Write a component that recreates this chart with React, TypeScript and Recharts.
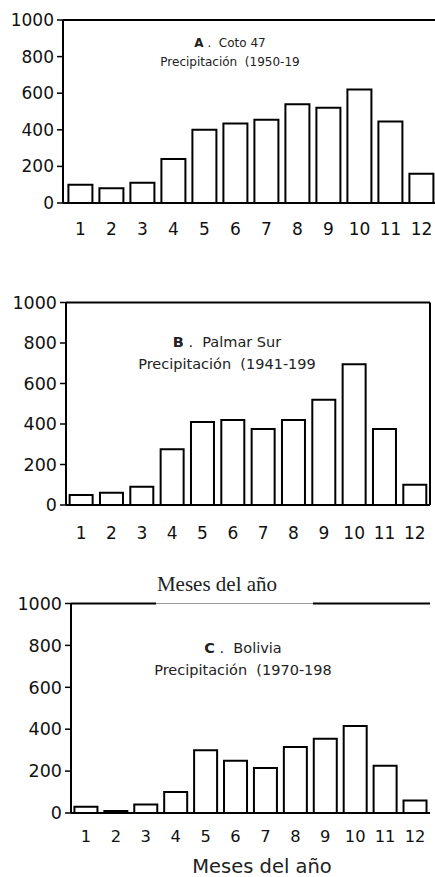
import React from "react"
import { Bar, BarChart, ReferenceLine, XAxis, YAxis } from "recharts"

const months = ["1", "2", "3", "4", "5", "6", "7", "8", "9", "10", "11", "12"]
const cotoValues = [100, 80, 110, 240, 400, 435, 455, 540, 520, 620, 445, 160]
const palmarValues = [50, 60, 90, 275, 410, 420, 375, 420, 520, 695, 375, 100]
const boliviaValues = [30, 10, 40, 100, 300, 250, 215, 315, 355, 415, 225, 60]
const yTicks = [0, 200, 400, 600, 800, 1000]

const font = "'DejaVu Sans', sans-serif"

const toRows = (values: number[]) => months.map((m, i) => ({ month: m, value: values[i] }))

interface PanelProps {
  values: number[]
  top: number
  width: number
  height: number
  margin: { top: number; right: number; left: number; bottom: number }
  yWidth: number
  yFont: number
  xFont: number
  xHeight: number
  xMargin: number
  padLeft?: number
  gap: string
  rightBorder?: boolean
}

const Panel: React.FC<PanelProps> = ({
  values,
  top,
  width,
  height,
  margin,
  yWidth,
  yFont,
  xFont,
  xHeight,
  xMargin,
  padLeft = 0,
  gap,
  rightBorder = true,
}) => {
  return (
    <div style={{ position: "absolute", left: 0, top }}>
      <BarChart width={width} height={height} data={toRows(values)} margin={margin} barCategoryGap={gap}>
        <XAxis
          dataKey="month"
          tickLine={false}
          axisLine={{ stroke: "#000", strokeWidth: 2 }}
          tick={{ fill: "#111", fontSize: xFont, fontFamily: font }}
          tickMargin={xMargin}
          height={xHeight}
          padding={{ left: padLeft, right: 0 }}
          interval={0}
        />
        <YAxis
          domain={[0, 1000]}
          ticks={yTicks}
          width={yWidth}
          tickSize={6}
          tickMargin={3}
          tickLine={{ stroke: "#000", strokeWidth: 1.5 }}
          axisLine={{ stroke: "#000", strokeWidth: 2 }}
          tick={{ fill: "#111", fontSize: yFont, fontFamily: font }}
          interval={0}
        />
        {/* frame: top edge and, for B and C, the right edge */}
        <ReferenceLine y={1000} stroke="#000" strokeWidth={2} />
        {rightBorder && (
          <ReferenceLine x={months[months.length - 1]} position="end" stroke="#000" strokeWidth={2} />
        )}
        <Bar dataKey="value" fill="#fff" stroke="#000" strokeWidth={2} isAnimationActive={false} />
      </BarChart>
    </div>
  )
}

const Title: React.FC<{ top: number; left: number; size: number; letter: string; name: string; period: string }> = ({
  top,
  left,
  size,
  letter,
  name,
  period,
}) => (
  <div
    style={{
      position: "absolute",
      top,
      left,
      width: 200,
      textAlign: "center",
      fontFamily: font,
      fontSize: size,
      lineHeight: `${size * 1.55}px`,
      color: "#222",
      whiteSpace: "pre",
    }}
  >
    <div>
      <b>{letter}</b>
      {" .  " + name}
    </div>
    <div>{"Precipitación  " + period}</div>
  </div>
)

export default function App() {
  return (
    <div
      style={{
        position: "absolute",
        left: 0,
        top: 0,
        width: 435,
        height: 877,
        overflow: "hidden",
        background: "#fff",
      }}
    >
      <Panel
        values={cotoValues}
        top={0}
        width={440}
        height={250}
        margin={{ top: 20, right: 3, left: 0, bottom: 7 }}
        yWidth={63}
        yFont={17}
        xFont={17}
        xHeight={40}
        xMargin={14}
        padLeft={2}
        gap="11%"
        rightBorder={false}
      />
      <Title top={34} left={130} size={12} letter="A" name="Coto 47" period="(1950-19" />

      <Panel
        values={palmarValues}
        top={280}
        width={435}
        height={270}
        margin={{ top: 22.5, right: 5, left: 0, bottom: 5 }}
        yWidth={66}
        yFont={17.5}
        xFont={17}
        xHeight={40}
        xMargin={16}
        gap="12%"
      />
      <Title top={331} left={127} size={14.5} letter="B" name="Palmar Sur" period="(1941-199" />
      <div
        style={{
          position: "absolute",
          top: 572,
          left: 117,
          width: 200,
          textAlign: "center",
          fontFamily: "'Liberation Serif', serif",
          fontSize: 21,
          color: "#222",
        }}
      >
        Meses del año
      </div>

      <Panel
        values={boliviaValues}
        top={590}
        width={435}
        height={260}
        margin={{ top: 13.5, right: 5, left: 0, bottom: 7 }}
        yWidth={71}
        yFont={17.5}
        xFont={16.3}
        xHeight={30}
        xMargin={11}
        gap="11.5%"
      />
      <div style={{ position: "absolute", top: 602, left: 156, width: 157, height: 3, background: "#fff" }}>
        <div style={{ marginTop: 1, height: 1, background: "#999" }} />
      </div>
      <Title top={637} left={143} size={14.5} letter="C" name="Bolivia" period="(1970-198" />
      <div
        style={{
          position: "absolute",
          top: 855,
          left: 162,
          width: 200,
          textAlign: "center",
          fontFamily: font,
          fontSize: 19.5,
          color: "#222",
        }}
      >
        Meses del año
      </div>
    </div>
  )
}
